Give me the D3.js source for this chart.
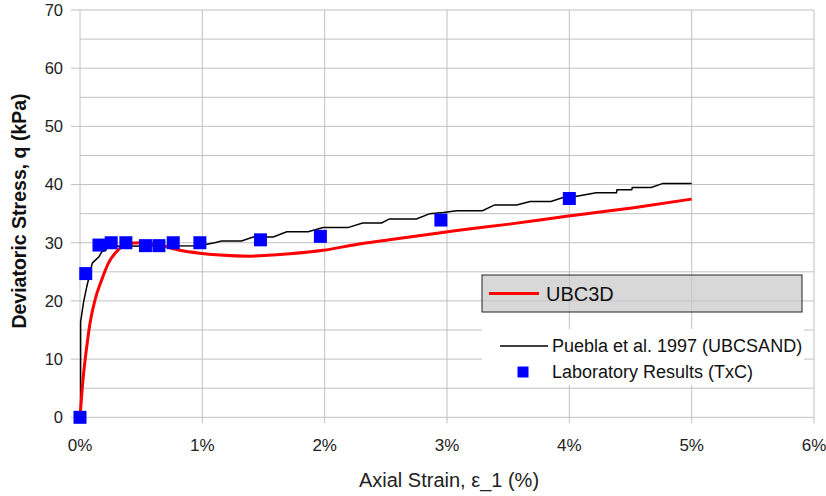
<!DOCTYPE html>
<html><head><meta charset="utf-8">
<script src="https://cdn.jsdelivr.net/npm/d3@7"></script>
<style>body{margin:0;background:#fff}svg{display:block}</style>
</head><body>
<svg id="c" width="826" height="496"></svg>
<script>
// ---- data ----
const xTicks = [0, 1, 2, 3, 4, 5, 6];               // %
const yTicks = [0, 10, 20, 30, 40, 50, 60, 70];     // kPa
const yMinor = [5, 15, 25, 35, 45, 55, 65];

const labStrain = [0.0, 0.047, 0.155, 0.255, 0.375, 0.535, 0.645, 0.762, 0.98, 1.475, 1.965, 2.95, 4.0];
const labQ      = [0.0, 24.7, 29.6, 30.0, 30.0, 29.5, 29.5, 30.0, 30.0, 30.5, 31.1, 33.9, 37.6];

const ubc3dStrain = [0, 0.027, 0.055, 0.082, 0.123, 0.177, 0.232, 0.30, 0.38, 0.49, 0.654, 0.817, 0.98, 1.14, 1.39, 1.715, 1.988, 2.26, 2.53, 2.8, 3.08, 3.51, 3.92, 4.58, 5.0];
const ubc3dQ      = [0, 7.0, 12.1, 16.2, 20.2, 23.6, 26.5, 28.5, 29.8, 30.0, 29.6, 28.7, 28.2, 27.9, 27.7, 28.1, 28.7, 29.7, 30.5, 31.3, 32.1, 33.2, 34.4, 36.2, 37.5];

const pueblaStrain = [0.005, 0.005, 0.03, 0.055, 0.075, 0.10, 0.115, 0.155, 0.18, 0.21, 0.225, 0.30, 1.0, 1.007, 1.10, 1.158, 1.32, 1.416, 1.58, 1.69, 1.865, 1.988, 2.19, 2.31, 2.465, 2.53, 2.75, 2.86, 2.97, 3.08, 3.29, 3.39, 3.57, 3.68, 3.85, 3.98, 4.06, 4.22, 4.385, 4.39, 4.51, 4.515, 4.67, 4.765, 5.0];
const pueblaQ      = [0, 16.4, 19.9, 22.4, 24.2, 26.5, 26.8, 27.6, 28.5, 28.7, 29.3, 29.4, 29.5, 29.6, 30.0, 30.3, 30.3, 31.0, 31.0, 31.9, 31.9, 32.6, 32.6, 33.4, 33.4, 34.1, 34.1, 35.0, 35.2, 35.5, 35.5, 36.5, 36.5, 37.1, 37.1, 38.0, 38.0, 38.6, 38.6, 39.1, 39.1, 39.5, 39.5, 40.2, 40.2];

const legendNames = ["UBC3D", "Puebla et al. 1997 (UBCSAND)", "Laboratory Results (TxC)"];

// ---- layout ----
const svg = d3.select("#c");
const L = 80, R = 814, T = 10, B = 417.3;
const x = d3.scaleLinear().domain([0, 6]).range([L, R]);
const y = d3.scaleLinear().domain([0, 70]).range([B, T]);
const font = "'Liberation Sans', Arial, sans-serif";
const gridC = "#c0c0c0";

// grid
const g = svg.append("g");
g.selectAll(".hm").data(yMinor).join("line")
  .attr("x1", L).attr("x2", R).attr("y1", d => y(d)).attr("y2", d => y(d))
  .attr("stroke", gridC).attr("stroke-width", 1);
g.selectAll(".hM").data(yTicks).join("line")
  .attr("x1", L - 9).attr("x2", R).attr("y1", d => y(d)).attr("y2", d => y(d))
  .attr("stroke", gridC).attr("stroke-width", 1);
g.selectAll(".v").data(xTicks).join("line")
  .attr("x1", d => x(d)).attr("x2", d => x(d)).attr("y1", T).attr("y2", B + 6)
  .attr("stroke", gridC).attr("stroke-width", 1);

// legend box (UBC3D) - semi transparent grey
svg.append("rect").attr("x", 482).attr("y", 275).attr("width", 320).attr("height", 37)
  .attr("fill", "#c8c8c8").attr("fill-opacity", 0.7).attr("stroke", "#222").attr("stroke-width", 1);
// white legend background for other two
svg.append("rect").attr("x", 482).attr("y", 329).attr("width", 322).attr("height", 56)
  .attr("fill", "#fff");

// axis tick labels
svg.append("g").selectAll("text").data(yTicks).join("text")
  .attr("x", 63).attr("y", d => y(d)).attr("dy", "0.35em").attr("text-anchor", "end")
  .attr("font-family", font).attr("font-size", 16.5).attr("fill", "#222").text(d => d);
svg.append("g").selectAll("text").data(xTicks).join("text")
  .attr("x", d => x(d)).attr("y", 445.5).attr("dy", "0.35em").attr("text-anchor", "middle")
  .attr("font-family", font).attr("font-size", 17).attr("fill", "#222").text(d => d + "%");

// axis titles
svg.append("text").attr("transform", `translate(26,211) rotate(-90)`)
  .attr("text-anchor", "middle").attr("font-family", font).attr("font-size", 19.5)
  .attr("font-weight", "bold").attr("fill", "#111").text("Deviatoric Stress, q (kPa)");
svg.append("text").attr("x", 449).attr("y", 480).attr("dy", "0.35em")
  .attr("text-anchor", "middle").attr("font-family", font).attr("font-size", 20)
  .attr("fill", "#222").text("Axial Strain, ε_1 (%)");

// series
const ubc = ubc3dStrain.map((s, i) => [s, ubc3dQ[i]]);
const pue = pueblaStrain.map((s, i) => [s, pueblaQ[i]]);
const lab = labStrain.map((s, i) => [s, labQ[i]]);

svg.append("path").datum(pue)
  .attr("d", d3.line().x(d => x(d[0])).y(d => y(d[1])))
  .attr("fill", "none").attr("stroke", "#000").attr("stroke-width", 1.5);
svg.append("path").datum(ubc)
  .attr("d", d3.line().curve(d3.curveMonotoneX).x(d => x(d[0])).y(d => y(d[1])))
  .attr("fill", "none").attr("stroke", "#ff0000").attr("stroke-width", 3);
const sq = 13;
svg.append("g").selectAll("rect").data(lab).join("rect")
  .attr("x", d => x(d[0]) - sq / 2).attr("y", d => y(d[1]) - sq / 2)
  .attr("width", sq).attr("height", sq).attr("fill", "#0000ff");

// legend entries
svg.append("line").attr("x1", 489).attr("x2", 539).attr("y1", 293.5).attr("y2", 293.5)
  .attr("stroke", "#ff0000").attr("stroke-width", 3);
svg.append("text").attr("x", 546).attr("y", 293.5).attr("dy", "0.35em")
  .attr("font-family", font).attr("font-size", 20).attr("fill", "#111").text(legendNames[0]);
svg.append("line").attr("x1", 500).attr("x2", 548).attr("y1", 346).attr("y2", 346)
  .attr("stroke", "#000").attr("stroke-width", 1.5);
svg.append("text").attr("x", 552).attr("y", 346).attr("dy", "0.35em")
  .attr("font-family", font).attr("font-size", 18).attr("fill", "#111").text(legendNames[1]);
svg.append("rect").attr("x", 523 - 5.5).attr("y", 372 - 5.5).attr("width", 11).attr("height", 11)
  .attr("fill", "#0000ff");
svg.append("text").attr("x", 552).attr("y", 372).attr("dy", "0.35em")
  .attr("font-family", font).attr("font-size", 18).attr("fill", "#111").text(legendNames[2]);
</script>
</body></html>
